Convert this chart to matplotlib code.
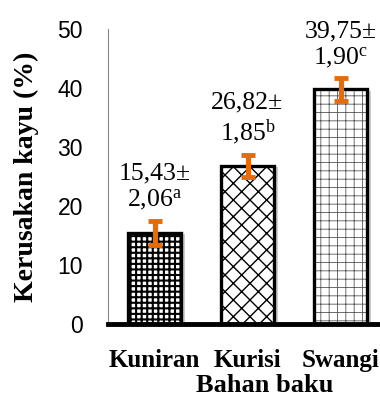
import matplotlib
matplotlib.use("Agg")
import matplotlib.pyplot as plt
import matplotlib.patheffects as pe

categories = ["Kuniran", "Kurisi", "Swangi"]
values = [15.43, 26.82, 39.75]
errors = [2.06, 1.85, 1.90]
letters = ["a", "b", "c"]
hatches = ["+++", "xx", "++"]

plt.rcParams['mathtext.fontset'] = 'custom'
plt.rcParams['mathtext.rm'] = 'Liberation Serif'
plt.rcParams['mathtext.it'] = 'Liberation Serif'

fig = plt.figure(figsize=(3.8, 3.98), dpi=100)
ax = fig.add_axes([108/380, 1-324/398, (387-108)/380, (324-29)/398])

x = list(range(len(categories)))
hatch_lw = [1.5, 1.0, 0.6]
hatch_col = ["black", "black", "#555555"]
for i in x:
    ax.bar(i, values[i], width=0.57, color="white", edgecolor="none",
           linewidth=0, zorder=1,
           path_effects=[pe.SimplePatchShadow(offset=(3, -1), shadow_rgbFace='#aaaaaa', alpha=0.6)])
    with plt.rc_context({'hatch.linewidth': hatch_lw[i]}):
        ax.bar(i, values[i], width=0.57, color="white", edgecolor=hatch_col[i],
               hatch=hatches[i], linewidth=0, zorder=2)
    ax.bar(i, values[i], width=0.57, color="none", edgecolor="black",
           linewidth=2.4, zorder=3)

ax.errorbar(x, values, yerr=errors, fmt='none', ecolor='#E46C0A',
            elinewidth=3.8, capsize=4.7, capthick=3.5, zorder=4)

for i in x:
    txt = f"{values[i]:.2f}".replace('.', ',') + "±\n" + f"{errors[i]:.2f}".replace('.', ',') + r"$^{\mathrm{" + letters[i] + "}}$"
    ax.annotate(txt, xy=(i, values[i] + errors[i]), xytext=(0, 6), textcoords='offset points',
                ha='center', va='bottom', fontsize=18.5, family='Liberation Serif',
                linespacing=1.15, multialignment='center')

ax.set_xlim(-0.5, 2.5)
ax.set_ylim(0, 50)
ax.set_yticks([0, 10, 20, 30, 40, 50])
ax.set_xticks(x)
ax.set_xticklabels(categories, family='Liberation Serif', fontweight='bold', fontsize=18)
ax.tick_params(axis='x', length=0, pad=18)
ax.tick_params(axis='y', length=0, pad=18, labelsize=16.5)
for lab in ax.get_yticklabels():
    lab.set_family('Liberation Sans')

for s in ['top', 'right']:
    ax.spines[s].set_visible(False)
ax.spines['left'].set_color('#888888')
ax.spines['left'].set_linewidth(0.8)
ax.spines['bottom'].set_linewidth(3.5)
ax.spines['bottom'].set_zorder(5)

fig.text(265/380, 1-392/398, "Bahan baku", ha='center', va='baseline',
         family='Liberation Serif', fontweight='bold', fontsize=19)
fig.text(26/380, 1-177/398, "Kerusakan kayu (%)", ha='center', va='center', rotation=90,
         family='Liberation Serif', fontweight='bold', fontsize=20)

fig.savefig("out.png", dpi=100)
